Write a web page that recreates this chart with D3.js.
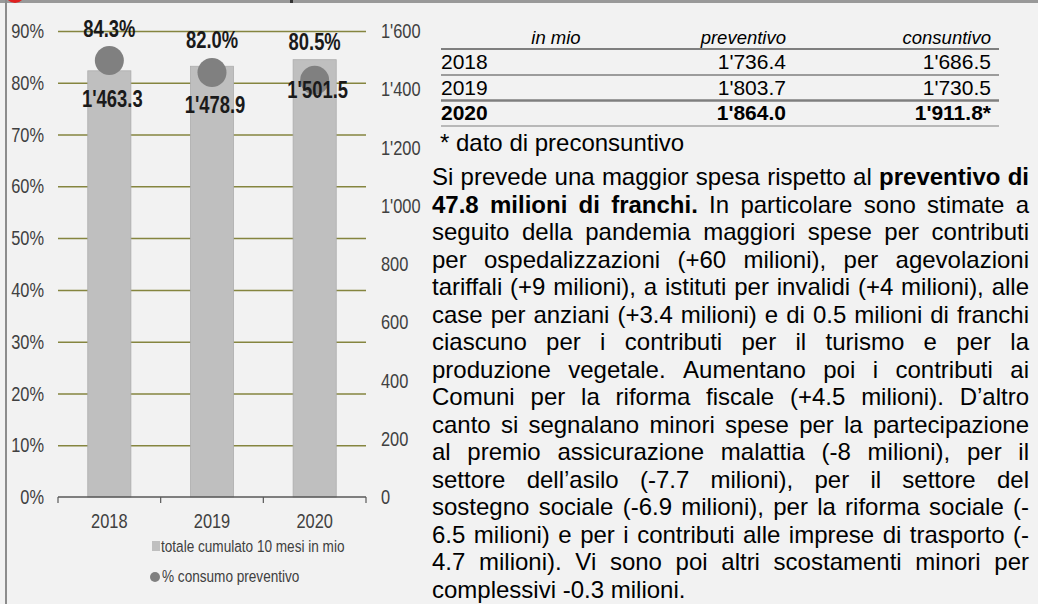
<!DOCTYPE html>
<meta charset="UTF-8">
<style>
    body { margin: 0; background: #f2f2f2; }
    .narrow { font-family: "Liberation Sans", Arial, sans-serif; }
    .tick text { fill: #404040; }
    .grid line { stroke: #85853f; stroke-width: 1.5px; }
</style>
<body>
<script src="https://cdn.jsdelivr.net/npm/d3@7"></script>
<script>

// chart data
var years = ["2018", "2019", "2020"];
var cumulato = [1463.3, 1478.9, 1501.5];      // totale cumulato 10 mesi in mio
var consumoPct = [84.3, 82.0, 80.5];          // % consumo preventivo
var pctTicks = [0, 10, 20, 30, 40, 50, 60, 70, 80, 90];
var valTicks = [0, 200, 400, 600, 800, 1000, 1200, 1400, 1600];

// table data
var tabHeader = ["in mio", "preventivo", "consuntivo"];
var tabYears = ["2018", "2019", "2020"];
var preventivo = [1736.4, 1803.7, 1864.0];
var consuntivo = [1686.5, 1730.5, 1911.8];

var legendLabels = ["totale cumulato 10 mesi in mio", "% consumo preventivo"];

// paragraph, one entry per printed line; bold runs marked with **
var paragraph = [
  "Si prevede una maggior spesa rispetto al **preventivo di**",
  "**47.8 milioni di franchi.** In particolare sono stimate a",
  "seguito della pandemia maggiori spese per contributi",
  "per ospedalizzazioni (+60 milioni), per agevolazioni",
  "tariffali (+9 milioni), a istituti per invalidi (+4 milioni), alle",
  "case per anziani (+3.4 milioni) e di 0.5 milioni di franchi",
  "ciascuno per i contributi per il turismo e per la",
  "produzione vegetale. Aumentano poi i contributi ai",
  "Comuni per la riforma fiscale (+4.5 milioni). D’altro",
  "canto si segnalano minori spese per la partecipazione",
  "al premio assicurazione malattia (-8 milioni), per il",
  "settore dell’asilo (-7.7 milioni), per il settore del",
  "sostegno sociale (-6.9 milioni), per la riforma sociale (-",
  "6.5 milioni) e per i contributi alle imprese di trasporto (-",
  "4.7 milioni). Vi sono poi altri scostamenti minori per",
  "complessivi -0.3 milioni."
];

var locale = d3.formatLocale({decimal: ".", thousands: "'", grouping: [3], currency: ["", ""]});
var fmt0 = locale.format(",.0f"),
    fmt1 = locale.format(",.1f");

var width = 1038, height = 604;

var svg = d3.select("body").append("svg")
    .attr("width", width)
    .attr("height", height);

svg.append("rect").attr("width", width).attr("height", height).attr("fill", "#f2f2f2");

// frame remains: top band and left border
svg.append("rect").attr("x", 0).attr("y", 0).attr("width", width).attr("height", 3).attr("fill", "#999");
svg.append("rect").attr("x", 5).attr("y", 0).attr("width", 2).attr("height", height).attr("fill", "#8c8c8c");
svg.append("circle").attr("cx", 15).attr("cy", -7).attr("r", 10).attr("fill", "#e02020");
svg.append("rect").attr("x", 290).attr("y", 0).attr("width", 3).attr("height", 3).attr("fill", "#333");

// no narrow font installed: squeeze Liberation Sans horizontally like Arial Narrow
var squeeze = 0.8;
function narrow(sel) {
  sel.each(function() {
    var t = d3.select(this);
    var x = +t.attr("x") || 0;
    t.attr("x", x / squeeze).attr("transform", "scale(" + squeeze + ",1)");
  });
}

// ****************** chart ***************************

var x0 = 58, x1 = 366, yBase = 497, yTop = 31;
var tickSize = "20.5px", labelSize = "23px";

var x = d3.scaleBand().domain(years).range([x0, x1]).paddingInner(0.58).paddingOuter(0.29);
var yPct = d3.scaleLinear().domain([0, 90]).range([yBase, yTop]);
var yVal = d3.scaleLinear().domain([0, 1600]).range([yBase, yTop]);

var chart = svg.append("g").attr("class", "narrow");

// gridlines
chart.append("g")
    .attr("class", "grid")
    .attr("transform", "translate(" + x0 + ",0)")
    .call(d3.axisLeft(yPct).tickValues(pctTicks.filter(function(d) { return d > 0; }))
        .tickSize(-(x1 - x0)).tickFormat(""))
    .call(function(g) { g.select(".domain").remove(); });

// left axis labels
chart.append("g")
    .attr("transform", "translate(" + x0 + ",0)")
    .call(d3.axisLeft(yPct).tickValues(pctTicks).tickSize(0).tickPadding(14)
        .tickFormat(function(d) { return d + "%"; }))
    .call(function(g) { g.select(".domain").remove(); })
    .selectAll("text").attr("font-size", tickSize).attr("font-family", null);

// right axis labels
chart.append("g")
    .attr("transform", "translate(" + x1 + ",0)")
    .call(d3.axisRight(yVal).tickValues(valTicks).tickSize(0).tickPadding(15).tickFormat(fmt0))
    .call(function(g) { g.select(".domain").remove(); })
    .selectAll("text").attr("font-size", tickSize).attr("font-family", null);

// bars
chart.selectAll("rect.bar")
    .data(years)
  .enter().append("rect")
    .attr("class", "bar")
    .attr("x", function(d) { return x(d); })
    .attr("y", function(d, i) { return yVal(cumulato[i]); })
    .attr("width", x.bandwidth())
    .attr("height", function(d, i) { return yBase - yVal(cumulato[i]); })
    .attr("fill", "#bfbfbf")
    .attr("stroke", "#adadad")
    .attr("stroke-width", 0.8);

// bottom axis with ticks on category boundaries
var bottom = chart.append("g").attr("transform", "translate(0," + yBase + ")");
bottom.call(d3.axisBottom(x).tickSize(0).tickPadding(16))
    .call(function(g) { g.select(".domain").remove(); })
    .selectAll("text").attr("font-size", tickSize).attr("font-family", null);
var bounds = [x0].concat(years.map(function(d) { return x(d) + x.bandwidth() / 2 + x.step() / 2; }));
bottom.append("line").attr("x1", x0).attr("x2", x1).attr("stroke", "#595959").attr("stroke-width", 1.5);
bottom.selectAll("line.bt")
    .data(bounds)
  .enter().append("line")
    .attr("class", "bt")
    .attr("x1", function(d) { return d; }).attr("x2", function(d) { return d; })
    .attr("y1", 0).attr("y2", 6)
    .attr("stroke", "#595959").attr("stroke-width", 1.2);

// % consumo markers
chart.selectAll("circle.pt")
    .data(years)
  .enter().append("circle")
    .attr("class", "pt")
    .attr("cx", function(d) { return x(d) + x.bandwidth() / 2; })
    .attr("cy", function(d, i) { return yPct(consumoPct[i]); })
    .attr("r", 14.5)
    .attr("fill", "#808080");

// label nudges (manual placement as in the original)
var pctDy = [-24, -24, -30];
var valDy = [36, 47, 38];

chart.selectAll("text.pct")
    .data(years)
  .enter().append("text")
    .attr("class", "pct")
    .attr("x", function(d) { return x(d) + x.bandwidth() / 2; })
    .attr("y", function(d, i) { return yPct(consumoPct[i]) + pctDy[i]; })
    .attr("text-anchor", "middle")
    .attr("font-size", labelSize).attr("font-weight", "bold").attr("fill", "#1a1a1a")
    .text(function(d, i) { return consumoPct[i].toFixed(1) + "%"; });

chart.selectAll("text.val")
    .data(years)
  .enter().append("text")
    .attr("class", "val")
    .attr("x", function(d) { return x(d) + x.bandwidth() / 2 + 3; })
    .attr("y", function(d, i) { return yVal(cumulato[i]) + valDy[i]; })
    .attr("text-anchor", "middle")
    .attr("font-size", labelSize).attr("font-weight", "bold").attr("fill", "#1a1a1a")
    .text(function(d, i) { return fmt1(cumulato[i]); });

// legend
var legend = chart.append("g").attr("font-size", "17px").attr("fill", "#404040");
legend.append("rect").attr("x", 152).attr("y", 541).attr("width", 8).attr("height", 10).attr("fill", "#bfbfbf");
legend.append("text").attr("x", 161).attr("y", 552).text(legendLabels[0]);
legend.append("circle").attr("cx", 155).attr("cy", 577).attr("r", 5).attr("fill", "#808080");
legend.append("text").attr("x", 162).attr("y", 582).text(legendLabels[1]);

chart.selectAll("text").call(narrow);

// ****************** table ***************************

var tabL = 441, tabR = 999, colPrev = 786, colCons = 991;
var table = svg.append("g").attr("font-family", "'Liberation Sans', Arial, sans-serif").attr("fill", "#000");

table.append("text").attr("x", 556).attr("y", 44).attr("text-anchor", "middle")
    .attr("font-size", "18.5px").attr("font-style", "italic").text(tabHeader[0]);
table.append("text").attr("x", colPrev).attr("y", 44).attr("text-anchor", "end")
    .attr("font-size", "18.5px").attr("font-style", "italic").text(tabHeader[1]);
table.append("text").attr("x", colCons).attr("y", 44).attr("text-anchor", "end")
    .attr("font-size", "18.5px").attr("font-style", "italic").text(tabHeader[2]);

var rowY = [69, 95, 120],
    ruleY = [49, 75, 100.5, 126],
    ruleW = [2, 1.5, 2.5, 1.2];

table.selectAll("line.rule")
    .data(ruleY)
  .enter().append("line")
    .attr("class", "rule")
    .attr("x1", tabL).attr("x2", tabR)
    .attr("y1", function(d) { return d; }).attr("y2", function(d) { return d; })
    .attr("stroke", "#7f7f7f")
    .attr("stroke-width", function(d, i) { return ruleW[i]; });

var rows = table.selectAll("g.row")
    .data(tabYears)
  .enter().append("g")
    .attr("class", "row")
    .attr("font-size", "21px")
    .attr("font-weight", function(d, i) { return i === tabYears.length - 1 ? "bold" : null; })
    .attr("transform", function(d, i) { return "translate(0," + rowY[i] + ")"; });

rows.append("text").attr("x", tabL).text(function(d) { return d; });
rows.append("text").attr("x", colPrev).attr("text-anchor", "end")
    .text(function(d, i) { return fmt1(preventivo[i]); });
rows.append("text").attr("x", colCons).attr("text-anchor", "end")
    .text(function(d, i) { return fmt1(consuntivo[i]) + (i === tabYears.length - 1 ? "*" : ""); });

table.append("text").attr("x", 440).attr("y", 151).attr("font-size", "24px")
    .text("* dato di preconsuntivo");

// ****************** justified paragraph ***************************

var parL = 432, parR = 1029, par0 = 185, lineH = 27.5, parSize = 24;
var par = svg.append("g")
    .attr("font-family", "'Liberation Sans', Arial, sans-serif")
    .attr("font-size", parSize + "px")
    .attr("fill", "#000");

// space width for the last (left-aligned) line
var probe = par.append("text").text("a a");
var probe2 = par.append("text").text("aa");
var spaceW = probe.node().getComputedTextLength() - probe2.node().getComputedTextLength();
probe.remove(); probe2.remove();

paragraph.forEach(function(line, li) {
  // split into words keeping the bold flag
  var words = [];
  line.split("**").forEach(function(chunk, ci) {
    chunk.split(" ").forEach(function(w) {
      if (w.length) words.push({t: w, b: ci % 2 === 1});
    });
  });

  var y = par0 + li * lineH;
  var nodes = words.map(function(w) {
    return par.append("text")
        .attr("y", y)
        .attr("font-weight", w.b ? "bold" : null)
        .text(w.t);
  });
  var widths = nodes.map(function(n) { return n.node().getComputedTextLength(); });
  var total = d3.sum(widths);
  var last = li === paragraph.length - 1;
  var gap = last ? spaceW : (parR - parL - total) / (words.length - 1);

  var cx = parL;
  nodes.forEach(function(n, i) {
    n.attr("x", cx);
    cx += widths[i] + gap;
  });
});

</script>
</body>
